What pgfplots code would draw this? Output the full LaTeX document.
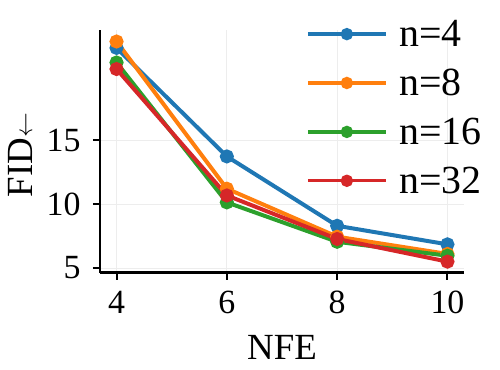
\documentclass[border=0pt]{standalone}
\usepackage{fontspec}
\setmainfont{Liberation Serif}
\usepackage{pgfplots}
\pgfplotsset{compat=1.18}
\definecolor{tblue}{HTML}{1F77B4}
\definecolor{torange}{HTML}{FF7F0E}
\definecolor{tgreen}{HTML}{2CA02C}
\definecolor{tred}{HTML}{D62728}
\begin{document}
\begin{tikzpicture}
\begin{axis}[
  scale only axis, width=364bp, height=242.5bp,
  xmin=3.7, xmax=10.3, ymin=4.65, ymax=23.6,
  axis x line*=bottom, axis y line*=left,
  axis line style={-, line width=2.2bp, black},
  xtick={4,6,8,10}, ytick={5,10,15},
  xticklabels={4,6,8,10}, yticklabels={5,10,15},
  tick align=outside, major tick length=7bp,
  tick style={line width=2bp, black},
  grid=major, grid style={line width=0.8bp, color=black!7},
  ticklabel style={font=\fontsize{34}{36}\selectfont},
  xticklabel style={yshift=-8bp},
  yticklabel style={xshift=-9bp},
  xlabel={NFE}, ylabel={FID$\leftarrow$},
  label style={font=\fontsize{37}{40}\selectfont},
  xlabel style={at={(axis description cs:0.5,-0.3608)}, anchor=base},
  ylabel style={at={(axis description cs:-0.1868,0.4845)}, anchor=base, rotate=0},
  legend style={draw=none, fill=none, at={(axis description cs:0.566,1.041)}, anchor=north west,
    font=\fontsize{40}{44}\selectfont, inner sep=0pt, column sep=12bp, row sep=21bp,
    nodes={inner sep=0pt}},
  legend cell align=left,
  legend image code/.code={\draw[mark repeat=2,mark phase=2,#1, line width=3.3bp, mark size=4.5bp] plot coordinates {(0bp,0bp)(39bp,0bp)(78bp,0bp)};},
  every axis plot/.append style={line width=4bp, mark=*, mark size=5bp},
]
\addplot[tblue] coordinates {(4,22.2) (6,13.72) (8,8.3) (10,6.85)};
\addlegendentry{n=4}
\addplot[torange] coordinates {(4,22.7) (6,11.2) (8,7.45) (10,6.1)};
\addlegendentry{n=8}
\addplot[tgreen] coordinates {(4,21.06) (6,10.13) (8,7.05) (10,5.96)};
\addlegendentry{n=16}
\addplot[tred] coordinates {(4,20.55) (6,10.67) (8,7.27) (10,5.5)};
\addlegendentry{n=32}
\coordinate (O) at (rel axis cs:0,0);
\end{axis}
\pgfresetboundingbox
\useasboundingbox (O) ++(-100bp,-97.5bp) rectangle ++(500bp,370bp);
\end{tikzpicture}
\end{document}
